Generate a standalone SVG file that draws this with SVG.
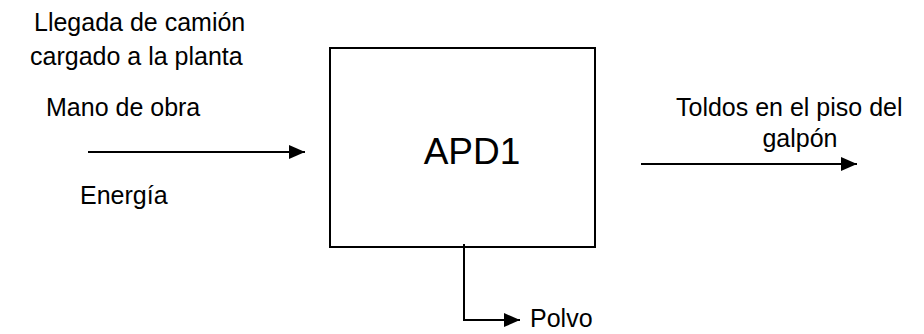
<svg xmlns="http://www.w3.org/2000/svg" width="924" height="334" viewBox="0 0 924 334">
  <style>
    .lbl { font-family: "Liberation Sans", Arial, sans-serif; font-size: 25px; fill: #000; }
    .title { font-family: "Liberation Sans", Arial, sans-serif; font-size: 37px; fill: #000; }
    .line { stroke: #000; stroke-width: 2; fill: none; }
  </style>
  <defs>
    <marker id="arrow" markerWidth="16" markerHeight="14" refX="16" refY="7" orient="auto" markerUnits="userSpaceOnUse">
      <path d="M0,0 L16,7 L0,14 Z" fill="#000"/>
    </marker>
  </defs>

  <rect width="924" height="334" fill="#fff"/>

  <!-- Input labels -->
  <g id="inputs">
    <text class="lbl" x="34" y="31">Llegada de camión</text>
    <text class="lbl" x="30" y="65">cargado a la planta</text>
    <text class="lbl" x="46" y="116">Mano de obra</text>
    <text class="lbl" x="80" y="204">Energía</text>
  </g>

  <!-- Process box -->
  <g id="apd1">
    <rect class="line" x="330" y="48" width="265" height="199"/>
    <text class="title" x="472" y="164" text-anchor="middle">APD1</text>
  </g>

  <!-- Output labels -->
  <g id="output">
    <text class="lbl" x="676" y="116">Toldos en el piso del</text>
    <text class="lbl" x="800" y="147" text-anchor="middle">galpón</text>
  </g>

  <g id="waste">
    <text class="lbl" x="530" y="327">Polvo</text>
  </g>

  <!-- Connectors -->
  <g id="connectors">
    <line class="line" x1="88" y1="152" x2="305" y2="152" marker-end="url(#arrow)"/>
    <line class="line" x1="641" y1="164" x2="857" y2="164" marker-end="url(#arrow)"/>
    <polyline class="line" points="464,244 464,320 520,320" marker-end="url(#arrow)"/>
  </g>
</svg>
